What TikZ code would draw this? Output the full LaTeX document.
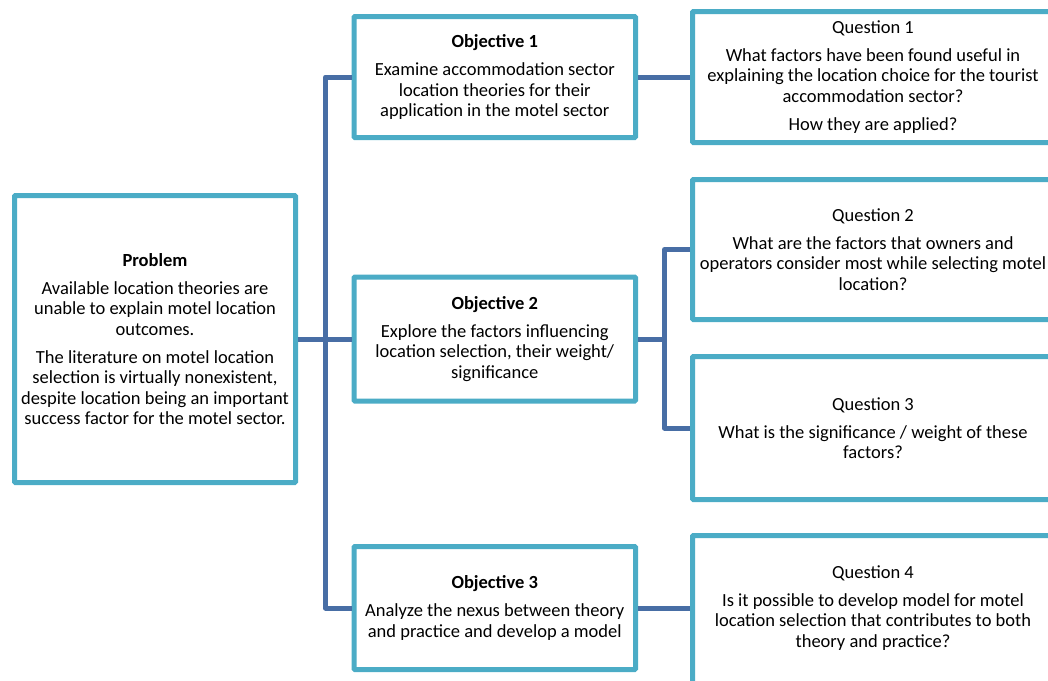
\documentclass[tikz,border=0pt]{standalone}
\usepackage{fontspec}
\setmainfont{Carlito}
\definecolor{boxcol}{RGB}{75,172,198}
\definecolor{concol}{RGB}{72,110,165}
\tikzset{
  box/.style={draw=boxcol, line width=5pt, fill=white, rounded corners=1pt, inner sep=0pt, align=center,
    font=\fontsize{18.5}{20.5}\selectfont},
  boxtext/.style={inner sep=0pt, align=center, font=\fontsize{18.5}{20.5}\selectfont},
  conn/.style={draw=concol, line width=5pt, line join=round},
}
\begin{document}
\begin{tikzpicture}[x=1pt,y=-1pt]
\useasboundingbox (0,0) rectangle (1048,680);
\clip (0,0) rectangle (1048,680);
\coordinate (tr) at (325.5,339);
\coordinate (br) at (664.5,339);
% boxes
\node[box, minimum width=281pt, minimum height=287pt] (prob) at (155,339)
  {\textbf{Problem}\\[7.5pt]Available location theories are\\unable to explain motel location\\outcomes.\\[7.5pt]The literature on motel location\\selection is virtually nonexistent,\\despite location being an important\\success factor for the motel sector.};
\node[box, minimum width=281.5pt, minimum height=121pt] (obj1) at (494.75,77)
  {\textbf{Objective 1}\\[7.5pt]Examine accommodation sector\\location theories for their\\application in the motel sector};
\node[box, minimum width=281.5pt, minimum height=124pt] (obj2) at (494.75,339)
  {\textbf{Objective 2}\\[7.5pt]Explore the factors influencing\\location selection, their weight/\\significance};
\node[box, minimum width=281.5pt, minimum height=123pt] (obj3) at (494.75,608)
  {\textbf{Objective 3}\\[7.5pt]Analyze the nexus between theory\\and practice and develop a model};
\node[box, minimum width=361pt, minimum height=131pt] (q1) at (873,77)
  {Question 1\\[7.5pt]What factors have been found useful in\\explaining the location choice for the tourist\\accommodation sector?\\[7.5pt]How they are applied?};
\node[box, minimum width=361pt, minimum height=140pt] (q2) at (873,249.5)
  {Question 2\\[7.5pt]What are the factors that owners and\\operators consider most while selecting motel\\location?};
\node[box, minimum width=361pt, minimum height=143pt] (q3) at (873,428)
  {Question 3\\[7.5pt]What is the significance / weight of these\\factors?};
\node[box, minimum width=361pt, minimum height=155pt] (q4) at (873,613) {};
\node[boxtext] (q4t) at (873,608)
  {Question 4\\[7.5pt]Is it possible to develop model for motel\\location selection that contributes to both\\theory and practice?};
% connectors
\draw[conn] (prob.east) -- (obj2.west);
\draw[conn] (obj1.west) -| (tr) |- (obj3.west);
\draw[conn] (obj1.east) -- (q1.west);
\draw[conn] (obj2.east) -- (br);
\draw[conn] (q2.west) -| (br) |- (q3.west);
\draw[conn] (obj3.east) -- (obj3.east -| q4.west);
\end{tikzpicture}
\end{document}
